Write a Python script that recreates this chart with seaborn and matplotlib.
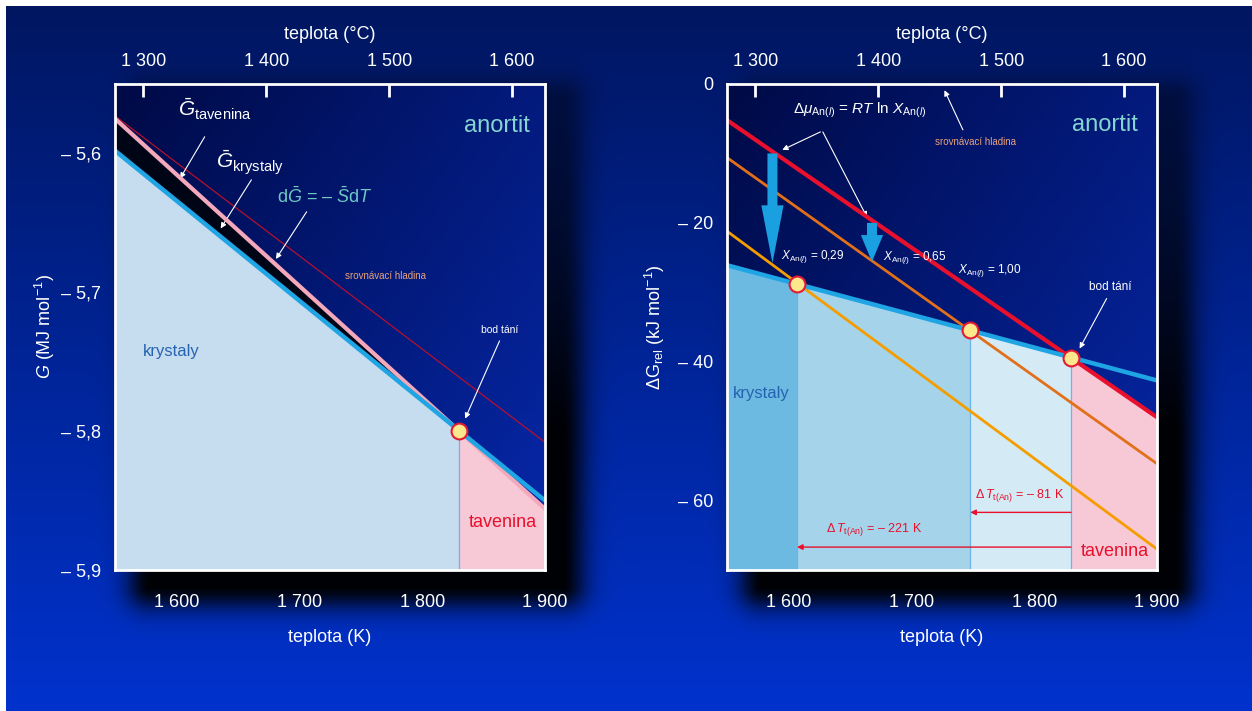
import numpy as np
import pandas as pd
import matplotlib
matplotlib.use("Agg")
import matplotlib.pyplot as plt
import seaborn as sns

sns.set_style("white")
plt.rcParams["font.family"] = ["Liberation Sans", "DejaVu Sans"]
plt.rcParams["mathtext.fontset"] = "custom"
plt.rcParams["mathtext.rm"] = "Liberation Sans"
plt.rcParams["mathtext.it"] = "Liberation Sans:italic"
plt.rcParams["mathtext.bf"] = "Liberation Sans:bold"

# ------------------------------------------------------------
# data
# ------------------------------------------------------------
# left panel: molar Gibbs energy (MJ/mol)
T_line = [1550, 1900]
G_krystaly = [-5.598, -5.850]
G_tavenina = [-5.575, -5.856]
G_srovnavaci = [-5.573, -5.808]
T_tani = [1830]
G_tani = [-5.800]
G_krystaly_tani = [-5.598, -5.800]     # crystal line 1550 -> melting point
G_tavenina_tani = [-5.575, -5.800]     # liquid line 1550 -> melting point
T_pink_left = [1830, 1900]
G_pink_left = [-5.800, -5.856]

# right panel: relative Gibbs energy (kJ/mol)
dG_krystaly = [-26.1, -42.7]
dG_X100 = [-5.2, -48.0]
dG_X065 = [-10.6, -54.7]
dG_X029 = [-21.2, -67.0]
T_eq = [1607, 1748, 1830]
dG_eq = [-28.8, -35.5, -39.4]
T_pink_right = [1830, 1900]
dG_pink_right = [-39.4, -48.0]

# blue "RT ln X" arrows and Delta T arrows
arrow_T = [1587, 1668]
arrow_top = [-10.0, -20.0]
arrow_bottom = [-25.8, -25.6]
dT_y = [-61.7, -66.7]
dT_labels = [r"$\Delta\,T_{\mathrm{t(An)}}$ = – 81 K", r"$\Delta\,T_{\mathrm{t(An)}}$ = – 221 K"]

xticks_K = [1600, 1700, 1800, 1900]
xticks_C = [1300, 1400, 1500, 1600]
yticks_left = [-5.6, -5.7, -5.8, -5.9]
yticks_right = [0, -10, -20, -30, -40, -50, -60]

fmt_k = lambda v: f"{v // 1000} {v % 1000:03d}"

C_BLUE = "#1fa4e4"
C_PINK = "#f4a8bb"
C_RED = "#e8102c"
C_OR1 = "#e2701a"
C_OR2 = "#f59d00"
C_TEAL = "#86d6cf"
C_SALMON = "#e8a27a"
C_KRY = "#2563b0"

W, H = 1252, 711
fig = plt.figure(figsize=(W / 100, H / 100), dpi=100)

# ------------------------------------------------------------
# background gradient + shadows
# ------------------------------------------------------------
yy, xx = np.mgrid[0:H, 0:W].astype(float)
top = np.array([0, 22, 96]) / 255
bot = np.array([0, 50, 205]) / 255
t = (yy / H)[..., None]
img = top + (bot - top) * t
ramp = np.clip(0.45 + (yy - 100) / 600, 0.45, 1.0)
shade = np.zeros((H, W))
for x0, y0, x1, y1 in [(150, 100, 562, 585), (762, 100, 1174, 585)]:
    dx = np.maximum(np.maximum(x0 - xx, 0), xx - x1)
    dy = np.maximum(np.maximum(y0 - yy, 0), yy - y1)
    d = np.sqrt(dx ** 2 + dy ** 2)
    shade = np.maximum(shade, np.exp(-(d / 24.0) ** 2) * ramp)
img = img * (1 - 0.97 * shade[..., None])
img[:6, :] = 1.0
img[:, :6] = 1.0
bg = fig.add_axes([0, 0, 1, 1])
bg.imshow(img, aspect="auto")
bg.axis("off")
bg.set_zorder(-5)

# inner panel gradient
gy, gx = np.mgrid[0:100, 0:100] / 99.0
g = (0.55 * gx + 0.45 * gy)[..., None]
inner = np.array([0, 10, 70]) / 255 + (np.array([6, 40, 170]) / 255 - np.array([0, 10, 70]) / 255) * g


def style_axes(ax):
    ax.imshow(inner, extent=(0, 1, 0, 1), transform=ax.transAxes, aspect="auto", zorder=0)
    for s in ax.spines.values():
        s.set_color("white")
        s.set_linewidth(2)
        s.set_zorder(20)
    ax.tick_params(axis="both", direction="in", length=9, width=2, color="white",
                   labelcolor="white", labelsize=13, right=False, top=False)
    ax.tick_params(axis="x", pad=17)
    ax.tick_params(axis="y", pad=10)
    sec = ax.secondary_xaxis("top", functions=(lambda k: k - 273.15, lambda c: c + 273.15))
    sec.set_xticks(xticks_C, [fmt_k(v) for v in xticks_C])
    sec.tick_params(direction="in", length=9, width=2, color="white", labelcolor="white",
                    labelsize=13, pad=10)
    sec.spines["top"].set_visible(False)
    sec.set_xlabel("teplota (°C)", color="white", fontsize=13, labelpad=10)
    ax.set_xticks(xticks_K, [fmt_k(v) for v in xticks_K])
    ax.set_xlabel("teplota (K)", color="white", fontsize=13, labelpad=13)


arrow_w = dict(arrowstyle="-|>", color="white", lw=0.8, mutation_scale=8, shrinkA=0, shrinkB=0)

# ------------------------------------------------------------
# left panel
# ------------------------------------------------------------
ax1 = fig.add_axes([115 / W, 1 - 570 / H, 430 / W, 486 / H])
style_axes(ax1)
ax1.fill_between([T_line[0], T_tani[0]], G_krystaly_tani, -5.9, color="#c6dcef", zorder=1, lw=0)
ax1.fill_between(T_pink_left, G_pink_left, -5.9, color="#f7c9d6", zorder=1, lw=0)
ax1.fill_between([T_line[0], T_tani[0]], G_tavenina_tani, G_krystaly_tani, color="#000516", zorder=1, lw=0)
ax1.vlines(T_tani, -5.9, G_tani, color="#6ab4e6", lw=0.9, zorder=2)
sns.lineplot(x=T_line, y=G_srovnavaci, ax=ax1, color="#b5102e", lw=0.9, zorder=3, legend=False)
sns.lineplot(x=T_line, y=G_tavenina, ax=ax1, color=C_PINK, lw=3, zorder=4, legend=False)
sns.lineplot(x=T_line, y=G_krystaly, ax=ax1, color=C_BLUE, lw=3.2, zorder=5, legend=False)
sns.scatterplot(x=T_tani, y=G_tani, ax=ax1, s=130, color="#fde78c", edgecolor="#e41a34",
                linewidth=1.5, zorder=10, legend=False)
ax1.set_xlim(1550, 1900)
ax1.set_ylim(-5.9, -5.55)
ax1.set_yticks(yticks_left, [f"– {abs(v):.1f}".replace(".", ",") for v in yticks_left])
ax1.set_ylabel(r"$G$ (MJ mol$^{-1}$)", color="white", fontsize=13)
ax1.yaxis.set_label_coords(-0.135, 0.5)

ax1.text(1631, -5.568, r"$\bar{G}_{\mathrm{tavenina}}$", color="white", fontsize=15, ha="center", va="center")
ax1.annotate("", xy=(1603, -5.618), xytext=(1623, -5.588), arrowprops=arrow_w)
ax1.text(1660, -5.607, r"$\bar{G}_{\mathrm{krystaly}}$", color="white", fontsize=15, ha="center", va="center")
ax1.annotate("", xy=(1636, -5.654), xytext=(1661, -5.619), arrowprops=arrow_w)
ax1.text(1721, -5.631, r"d$\bar{G}$ = – $\bar{S}$d$T$", color="#6fc8c2", fontsize=13, ha="center", va="center")
ax1.annotate("", xy=(1681, -5.676), xytext=(1706, -5.642), arrowprops=arrow_w)
ax1.text(1770, -5.688, "srovnávací hladina", color=C_SALMON, fontsize=7, ha="center", va="center")
ax1.text(1863, -5.727, "bod tání", color="white", fontsize=7.5, ha="center", va="center")
ax1.annotate("", xy=(1835, -5.791), xytext=(1863, -5.735), arrowprops=arrow_w)
ax1.text(1596, -5.743, "krystaly", color=C_KRY, fontsize=12, ha="center", va="center")
ax1.text(1866, -5.866, "tavenina", color=C_RED, fontsize=13, ha="center", va="center")
ax1.text(1861, -5.58, "anortit", color=C_TEAL, fontsize=17, ha="center", va="center")

# ------------------------------------------------------------
# right panel
# ------------------------------------------------------------
ax2 = fig.add_axes([727 / W, 1 - 570 / H, 430 / W, 486 / H])
style_axes(ax2)
fill_T = [T_line[0]] + T_eq
fill_G = [dG_krystaly[0]] + dG_eq
for i, col in enumerate(["#6cb9e2", "#a4d3ea", "#d4ebf6"]):
    ax2.fill_between(fill_T[i:i + 2], fill_G[i:i + 2], -70, color=col, zorder=1, lw=0)
ax2.fill_between(T_pink_right, dG_pink_right, -70, color="#f7c9d6", zorder=1, lw=0)
ax2.vlines(T_eq, -70, dG_eq, color="#6ab4e6", lw=0.9, zorder=2)
sns.lineplot(x=T_line, y=dG_X029, ax=ax2, color=C_OR2, lw=2, zorder=3, legend=False)
sns.lineplot(x=T_line, y=dG_X065, ax=ax2, color=C_OR1, lw=2, zorder=3, legend=False)
sns.lineplot(x=T_line, y=dG_X100, ax=ax2, color=C_RED, lw=3, zorder=4, legend=False)
sns.lineplot(x=T_line, y=dG_krystaly, ax=ax2, color=C_BLUE, lw=3.2, zorder=5, legend=False)
sns.scatterplot(x=T_eq, y=dG_eq, ax=ax2, s=130, color="#fde78c", edgecolor="#e41a34",
                linewidth=1.5, zorder=10, legend=False)

for Tx, y0, y1, hl in zip(arrow_T, arrow_top, arrow_bottom, [2.6, 1.2]):
    ax2.annotate("", xy=(Tx, y1), xytext=(Tx, y0), zorder=6,
                 arrowprops=dict(arrowstyle=f"simple,head_width=1.0,head_length={hl},tail_width=0.45",
                                 color="#1a9fe0", lw=0, shrinkA=0, shrinkB=0, mutation_scale=16))
for yv, Tend, lab, Tlab, ylab in zip(dT_y, [T_eq[1], T_eq[0]], dT_labels, [1788, 1670], [-59.2, -64.1]):
    ax2.annotate("", xy=(Tend, yv), xytext=(T_eq[2], yv), zorder=6,
                 arrowprops=dict(arrowstyle="-|>", color=C_RED, lw=1, mutation_scale=8, shrinkA=0, shrinkB=0))
    ax2.text(Tlab, ylab, lab, color=C_RED, fontsize=9, ha="center", va="center", zorder=7)

ax2.set_xlim(1550, 1900)
ax2.set_ylim(-70, 0)
ax2.set_yticks(yticks_right, [("0" if v == 0 else f"– {abs(v)}") if v % 20 == 0 else "" for v in yticks_right])
ax2.set_ylabel(r"$\Delta$G$_{\mathrm{rel}}$ (kJ mol$^{-1}$)", color="white", fontsize=13)
ax2.yaxis.set_label_coords(-0.14, 0.5)

ax2.text(1658, -3.8, r"$\Delta\mu_{\mathrm{An}(l)}$ = $RT$ ln $X_{\mathrm{An}(l)}$", color="white",
         fontsize=11, ha="center", va="center")
ax2.annotate("", xy=(1595, -9.5), xytext=(1626, -6.9), arrowprops=arrow_w)
ax2.annotate("", xy=(1664, -19.2), xytext=(1628, -6.9), arrowprops=arrow_w)
ax2.text(1752, -8.4, "srovnávací hladina", color=C_SALMON, fontsize=7, ha="center", va="center")
ax2.annotate("", xy=(1727, -0.9), xytext=(1742, -6.6), arrowprops=arrow_w)
for Tx, yv, xs in zip([1620, 1703, 1764], [-24.8, -25.0, -26.9], ["0,29", "0,65", "1,00"]):
    ax2.text(Tx, yv, r"$X_{\mathrm{An}(l)}$ = " + xs, color="white", fontsize=8.5, ha="center", va="center", zorder=7)
ax2.text(1862, -29.3, "bod tání", color="white", fontsize=8.5, ha="center", va="center")
ax2.annotate("", xy=(1837, -38.1), xytext=(1859, -30.9), arrowprops=arrow_w)
ax2.text(1858, -5.9, "anortit", color=C_TEAL, fontsize=17, ha="center", va="center")
ax2.text(1578, -44.6, "krystaly", color=C_KRY, fontsize=12, ha="center", va="center", zorder=7)
ax2.text(1866, -67.4, "tavenina", color=C_RED, fontsize=13, ha="center", va="center", zorder=7)

fig.savefig("out.png", dpi=100)
